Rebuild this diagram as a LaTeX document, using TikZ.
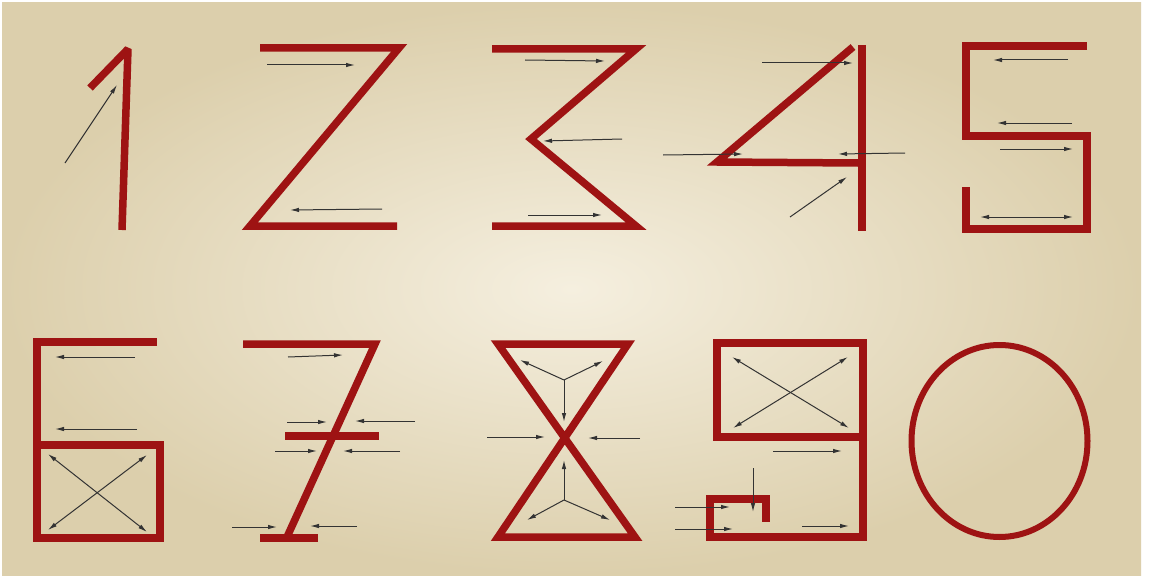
\documentclass[tikz,border=0pt]{standalone}
\usetikzlibrary{arrows.meta}
\definecolor{ink}{HTML}{333333}
\definecolor{chalk}{HTML}{9E1313}
\definecolor{paper}{HTML}{F5EFDF}
\definecolor{paperedge}{HTML}{DCCFAC}
\tikzset{
  stroke/.style={draw=chalk,line width=7.5pt,line join=miter},
  ring/.style={draw=chalk,line width=6pt},
  ar/.style={-{Latex[length=9pt,width=4.5pt]},draw=ink,line width=1pt},
  arb/.style={{Latex[length=9pt,width=4.5pt]}-{Latex[length=9pt,width=4.5pt]},draw=ink,line width=1pt},
}
\begin{document}
\begin{tikzpicture}[x=1pt,y=-1pt]
  \useasboundingbox (0,0) rectangle (1149,578);
  \fill[white] (0,0) rectangle (1149,578);
  \shade[inner color=paper,outer color=paperedge] (2,3) rectangle (1141,575);
  % top row
  \draw[stroke,line join=bevel] (90,88) -- (128,49) -- (122,230);
  \draw[stroke] (260,48) -- (399,48) -- (250,226) -- (397,226);
  \draw[stroke] (492,49) -- (636,49) -- (531,139) -- (636,226) -- (492,226);
  \draw[stroke] (862,45) -- (862,231);
  \draw[stroke] (853,47) -- (717,162) -- (858,163);
  \draw[stroke] (1087,46) -- (966,46) -- (966,136) -- (1087,136) -- (1087,229) -- (966,229) -- (966,187);
  \foreach \xa/\ya/\xb/\yb in {65/163/117/85, 267/65/355/65, 382/209/290/210,
    525/60/605/61, 622/139/543/141, 528/215/602/215,
    762/63/853/63, 663/155/743/154, 905/153/838/154, 790/217/847/177,
    1068/60/993/60, 1072/123/997/123, 1000/149/1073/149}
    \draw[ar] (\xa,\ya) -- (\xb,\yb);
  \draw[arb] (980,217) -- (1073,217);
  % bottom row
  \draw[stroke] (157,342) -- (37,342) -- (37,538) -- (160,538) -- (160,445) -- (37,445);
  \draw[stroke] (243,344) -- (375,344) -- (287,537);
  \draw[stroke] (260,538) -- (318,538);
  \draw[stroke] (285,436) -- (379,436);
  \draw[stroke] (498,344) -- (628,344) -- (498,537) -- (635,537) -- cycle;
  \draw[stroke] (863,437) -- (717,437) -- (717,343) -- (863,343) -- (863,537) -- (710,537) -- (710,499) -- (766,499) -- (766,522);
  \draw[ring] (999.5,441) ellipse [x radius=88,y radius=96];
  \foreach \xa/\ya/\xb/\yb in {135/357/55/357, 137/429/55/429,
    288/357/343/355, 287/422/327/422, 415/421/355/421, 275/451/317/451,
    400/451/343/451, 232/527/277/527, 357/526/310/526,
    487/437/545/437, 640/438/588/438,
    773/451/842/451, 802/526/849/526, 753/468/753/512, 675/507/730/507, 675/529/733/529}
    \draw[ar] (\xa,\ya) -- (\xb,\yb);
  \foreach \xa/\ya/\xb/\yb in {48/454/147/532, 147/455/48/530, 732/357/849/428, 848/357/733/428}
    \draw[arb] (\xa,\ya) -- (\xb,\yb);
  \coordinate (ytop) at (564,380);
  \coordinate (ybot) at (564,500);
  \draw[ar] (ytop) -- (520,360);
  \draw[ar] (ytop) -- (603,361);
  \draw[ar] (ytop) -- (564,422);
  \draw[ar] (ybot) -- (564,460);
  \draw[ar] (ybot) -- (527,520);
  \draw[ar] (ybot) -- (610,520);
\end{tikzpicture}
\end{document}
